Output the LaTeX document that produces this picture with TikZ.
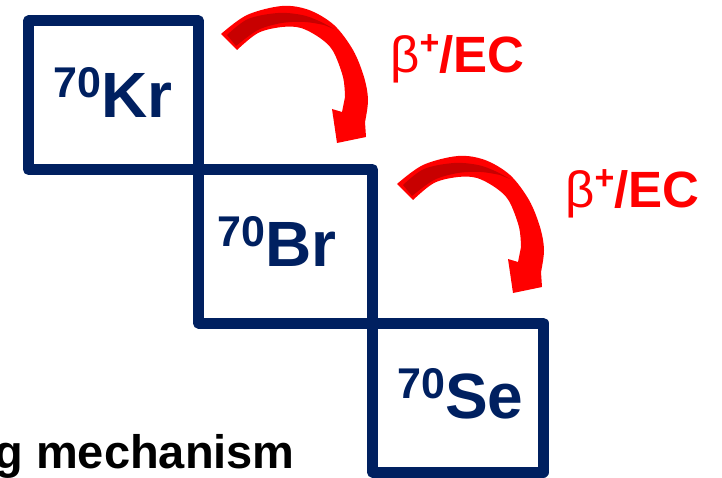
\documentclass[tikz,border=0pt]{standalone}
\usepackage{fontspec}
\setmainfont{Liberation Sans}
\definecolor{navy}{HTML}{002060}
\definecolor{darkband}{HTML}{C80000}
\definecolor{decayred}{HTML}{FF0000}
\newcommand{\nuclide}[2]{\raisebox{20pt}{\fontsize{43}{43}\selectfont #1}\fontsize{64}{64}\selectfont #2}
\newcommand{\decaytext}{{\mdseries β}\raisebox{18pt}{\fontsize{34}{34}\selectfont +}/EC}
\tikzset{
  isobox/.style={draw=navy, line width=11pt, line join=round, inner sep=0pt},
  isolabel/.style={text=navy, font=\bfseries, inner sep=0pt},
  decaylabel/.style={text=decayred, font=\fontsize{51}{51}\selectfont\bfseries, inner sep=0pt},
  decayarrow/.pic={
    \fill[decayred] plot[smooth,tension=0.55] coordinates {(221,34) (247,15) (282,6) (309,10) (334,25) (353,50) (364,77) (368,100) (365,122)}
      -- (366,137) -- (337,143) -- (332,109) -- (342,112)
      -- plot[smooth,tension=0.55] coordinates {(345,97) (343,77) (333,51) (320,38) (301,28) (282,27) (258,33) (237,50)} -- cycle;
    \fill[darkband] plot[smooth,tension=0.55] coordinates {(227,35) (248,19) (278,13) (302,15) (319,21) (334,29)}
      -- plot[smooth,tension=0.55] coordinates {(324,25) (305,22) (282,23) (258,30) (236,46)} -- cycle;
  }
}
\begin{document}
\begin{tikzpicture}[x=1pt,y=-1pt]
\useasboundingbox (0,0) rectangle (722,478);
% boxes
\node[isobox, minimum width=170pt, minimum height=148.5pt] (kr) at (113.5,95.25) {};
\node[isobox, minimum width=174pt, minimum height=153.5pt] (br) at (285.5,246.25) {};
\node[isobox, minimum width=170.5pt, minimum height=149pt] (se) at (457.75,397.5) {};
% nuclide labels
\node[isolabel, anchor=base west] (krtext) at (53,118) {\nuclide{70}{Kr}};
\node[isolabel, anchor=base west] (brtext) at (217,266) {\nuclide{70}{Br}};
\node[isolabel, anchor=base west] (setext) at (397,418) {\nuclide{70}{Se}};
% decay arrows
\pic at (0,0) {decayarrow};
\pic at (176,150) {decayarrow};
% decay labels
\node[decaylabel, anchor=base west] (lab1) at (390,73) {\decaytext};
\node[decaylabel, anchor=base west] (lab2) at (565,208) {\decaytext};
% caption fragment
\node[anchor=base east, font=\fontsize{47}{47}\selectfont\bfseries, inner sep=0pt] (mech) at (295,468) {g mechanism};
\end{tikzpicture}
\end{document}
